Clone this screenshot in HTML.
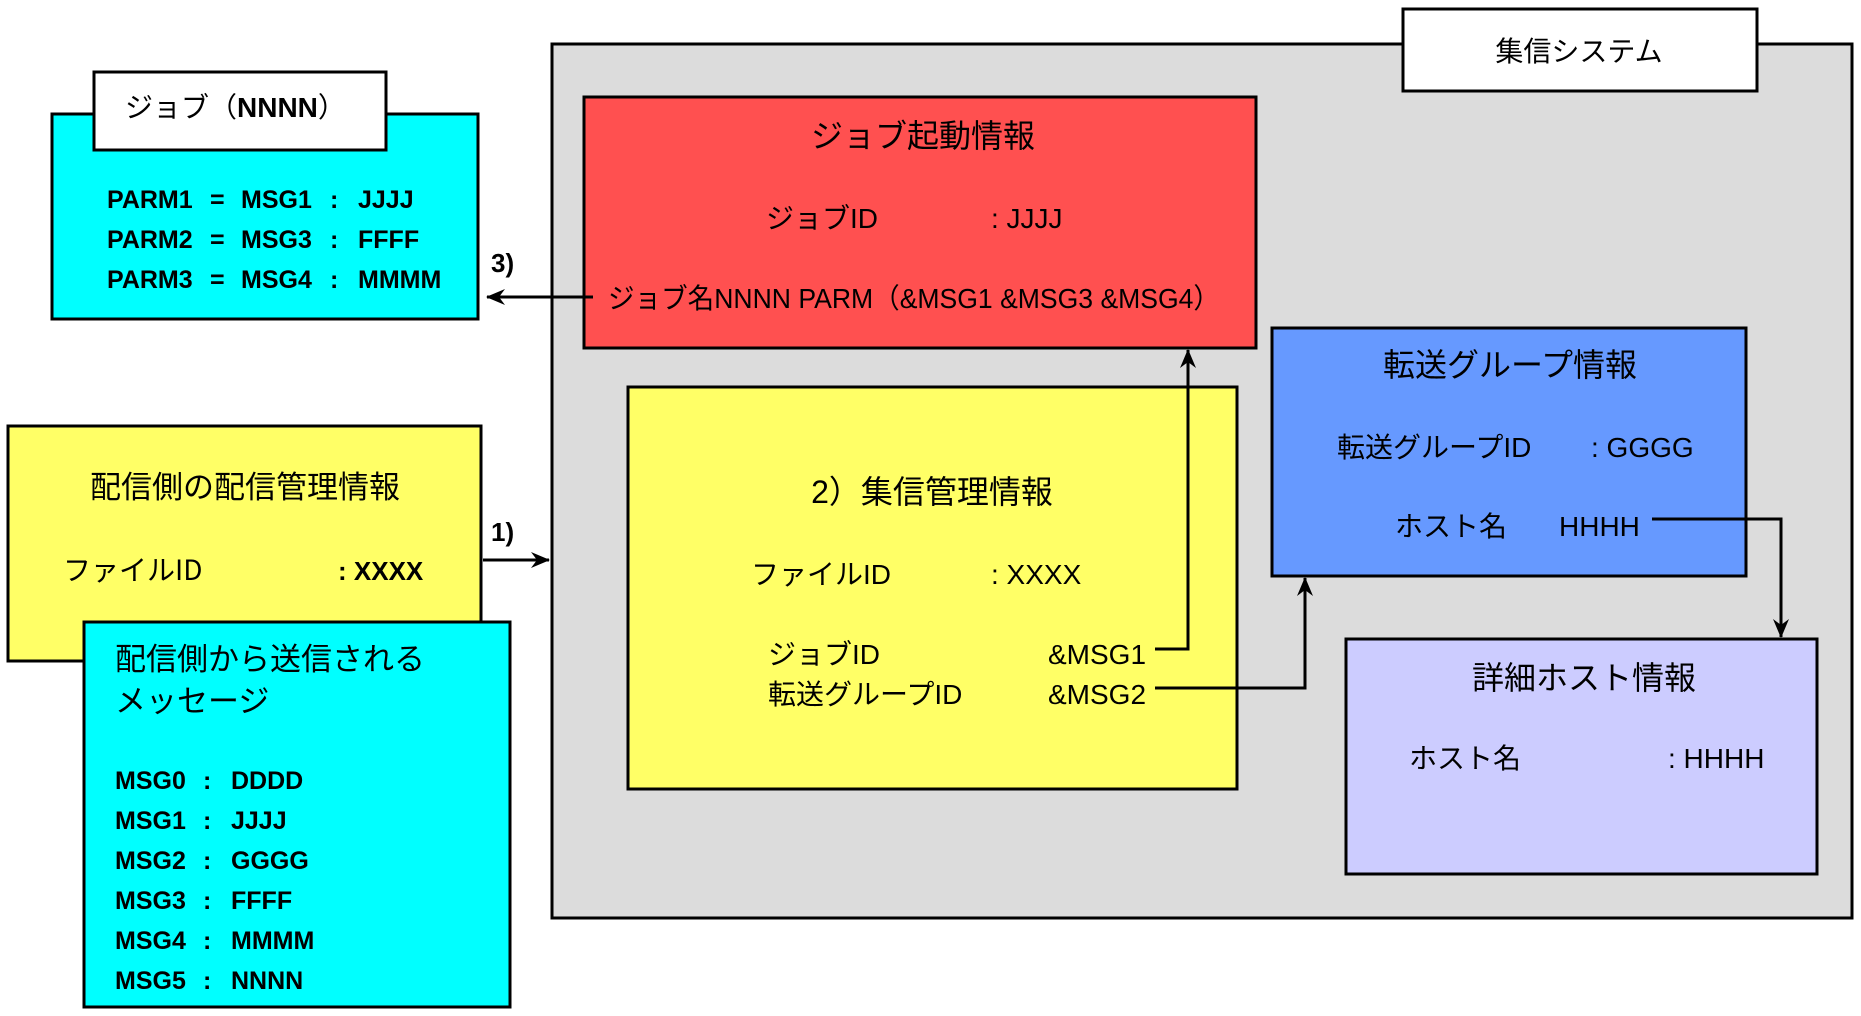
<!DOCTYPE html>
<html><head><meta charset="utf-8"><style>
html,body{margin:0;padding:0;background:#fff;}
svg{display:block;}
text{font-family:"Liberation Sans","Noto Sans CJK JP",sans-serif;fill:#000;}
.j{font-family:"Noto Sans CJK JP",sans-serif;}
.b{font-weight:bold;}
</style></head><body>
<svg width="1861" height="1016" viewBox="0 0 1861 1016" xmlns="http://www.w3.org/2000/svg">
<defs>
<marker id="ah" markerWidth="20" markerHeight="20" refX="18" refY="10" orient="auto" markerUnits="userSpaceOnUse">
<path d="M0,2 L19,10 L0,18 L6,10 Z" fill="#000"/></marker>
</defs>
<g stroke="#000" stroke-width="3">
<rect x="552" y="44" width="1300" height="874" fill="#dcdcdc"/>
<rect x="1403" y="9" width="354" height="82" fill="#fff"/>
<rect x="584" y="97" width="672" height="251" fill="#ff5050"/>
<rect x="628" y="387" width="609" height="402" fill="#ffff66"/>
<rect x="1272" y="328" width="474" height="248" fill="#6699ff"/>
<rect x="1346" y="639" width="471" height="235" fill="#ccccff"/>
<rect x="52" y="114" width="426" height="205" fill="#00ffff"/>
<rect x="94" y="72" width="292" height="78" fill="#fff"/>
<rect x="8" y="426" width="473" height="235" fill="#ffff66"/>
<rect x="84" y="622" width="426" height="385" fill="#00ffff"/>
</g>
<g stroke="#000" stroke-width="3" fill="none">
<line x1="593" y1="297" x2="487" y2="297" marker-end="url(#ah)"/>
<line x1="483" y1="560" x2="549" y2="560" marker-end="url(#ah)"/>
<polyline points="1155,649 1188,649 1188,350" marker-end="url(#ah)"/>
<polyline points="1155,688 1305,688 1305,578" marker-end="url(#ah)"/>
<polyline points="1652,519 1781,519 1781,637" marker-end="url(#ah)"/>
</g>
<text class="j" x="1579" y="61" font-size="28" text-anchor="middle">集信システム</text>
<text x="125" y="117" font-size="28" class="j">ジョブ（<tspan font-family="Liberation Sans" font-weight="bold">NNNN</tspan>）</text>
<g class="b" font-size="25">
<text x="107" y="208">PARM1<tspan x="210">=</tspan><tspan x="241">MSG1</tspan><tspan x="330">:</tspan><tspan x="358">JJJJ</tspan></text>
<text x="107" y="248">PARM2<tspan x="210">=</tspan><tspan x="241">MSG3</tspan><tspan x="330">:</tspan><tspan x="358">FFFF</tspan></text>
<text x="107" y="288">PARM3<tspan x="210">=</tspan><tspan x="241">MSG4</tspan><tspan x="330">:</tspan><tspan x="358">MMMM</tspan></text>
<text x="491" y="272" font-size="26">3)</text>
<text x="491" y="541" font-size="26">1)</text>
</g>
<text class="j" x="245" y="498" font-size="31" text-anchor="middle">配信側の配信管理情報</text>
<text class="j" x="63" y="580" font-size="28">ファイルID</text>
<text x="338" y="580" font-size="26" class="b">: XXXX</text>
<text class="j" x="115" y="670" font-size="31">配信側から送信される</text>
<text class="j" x="115" y="712" font-size="31">メッセージ</text>
<g class="b" font-size="25">
<text x="115" y="789">MSG0<tspan x="203">:</tspan><tspan x="231">DDDD</tspan></text>
<text x="115" y="829">MSG1<tspan x="203">:</tspan><tspan x="231">JJJJ</tspan></text>
<text x="115" y="869">MSG2<tspan x="203">:</tspan><tspan x="231">GGGG</tspan></text>
<text x="115" y="909">MSG3<tspan x="203">:</tspan><tspan x="231">FFFF</tspan></text>
<text x="115" y="949">MSG4<tspan x="203">:</tspan><tspan x="231">MMMM</tspan></text>
<text x="115" y="989">MSG5<tspan x="203">:</tspan><tspan x="231">NNNN</tspan></text>
</g>
<g class="j" font-size="28">
<text x="923" y="147" font-size="32" text-anchor="middle">ジョブ起動情報</text>
<text x="766" y="228">ジョブID</text>
<text x="991" y="228">: JJJJ</text>
<text x="608" y="308" textLength="612" lengthAdjust="spacingAndGlyphs">ジョブ名NNNN PARM（&amp;MSG1 &amp;MSG3 &amp;MSG4）</text>
<text x="932" y="503" font-size="32" text-anchor="middle">2）集信管理情報</text>
<text x="751" y="584">ファイルID</text>
<text x="991" y="584">: XXXX</text>
<text x="768" y="664">ジョブID</text>
<text x="1048" y="664">&amp;MSG1</text>
<text x="768" y="704">転送グループID</text>
<text x="1048" y="704">&amp;MSG2</text>
<text x="1510" y="376" font-size="32" text-anchor="middle">転送グループ情報</text>
<text x="1337" y="457">転送グループID</text>
<text x="1591" y="457">: GGGG</text>
<text x="1395" y="536">ホスト名</text>
<text x="1559" y="536">HHHH</text>
<text x="1584" y="689" font-size="32" text-anchor="middle">詳細ホスト情報</text>
<text x="1409" y="768">ホスト名</text>
<text x="1668" y="768">: HHHH</text>
</g>
</svg>
</body></html>
